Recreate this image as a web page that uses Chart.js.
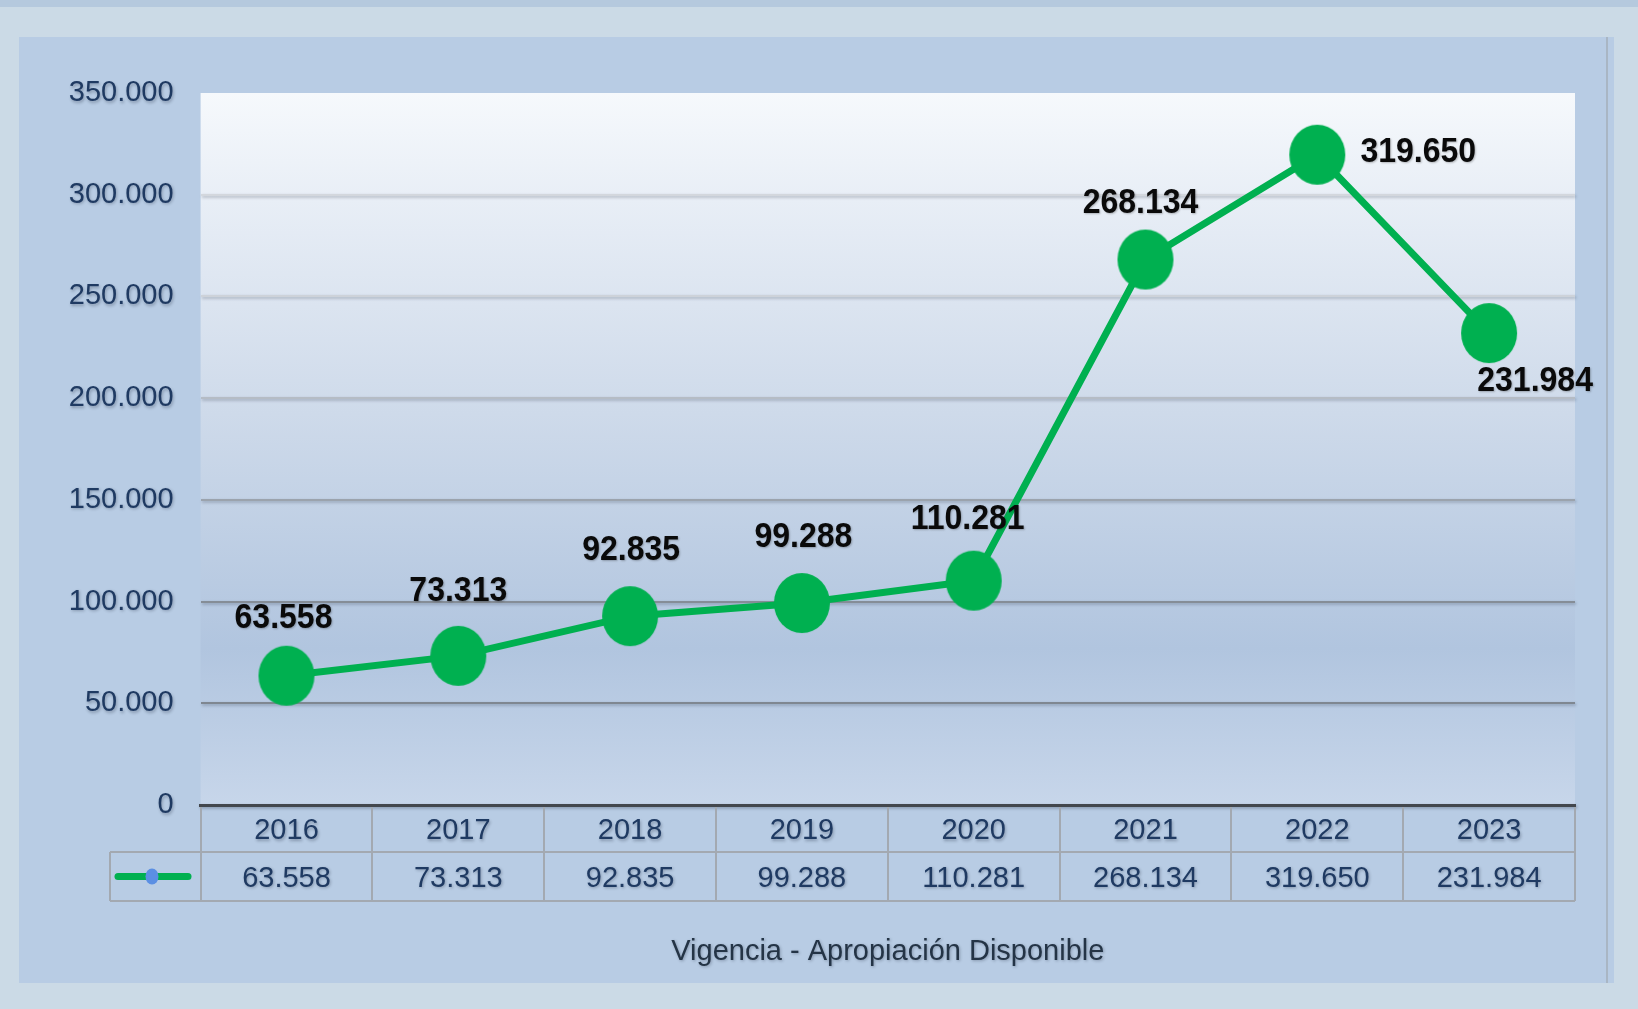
<!DOCTYPE html>
<html><head><meta charset="utf-8">
<script src="https://cdn.jsdelivr.net/npm/chart.js@4"></script>
<style>html,body{margin:0;padding:0;background:#cbdae6;overflow:hidden}canvas{display:block}</style>
</head><body>
<canvas id="c" width="1638" height="1009"></canvas>
<script>
// ---- data ----
const years = ['2016', '2017', '2018', '2019', '2020', '2021', '2022', '2023'];
const appropriation = [63558, 73313, 92835, 99288, 110281, 268134, 319650, 231984];
const yTicks = [0, 50000, 100000, 150000, 200000, 250000, 300000, 350000];
const axisTitle = 'Vigencia - Apropiación Disponible';

// ---- style ----
const FONT = '"Liberation Sans", Arial, sans-serif';
const labelOffsets = [[-3, -57], [0, -65], [1, -66], [1.5, -66], [-6, -61], [-5, -56], [101, -2], [46, 48]];
const gridColors = ['rgba(0,0,0,0)', '#7f8791', '#858d97', '#9ba3ad', '#b5bcc5', '#cdd2d9', '#d3d7dd', 'rgba(0,0,0,0)'];
const NAVY = '#1f3a62';
const GREEN = '#00b050';
const fmt = v => String(v).replace(/\B(?=(\d{3})+(?!\d))/g, '.');

function ellipseStyle(rx, ry, color) {
  const c = document.createElement('canvas');
  c.width = rx * 2 + 2; c.height = ry * 2 + 2;
  const g = c.getContext('2d');
  g.fillStyle = color;
  g.beginPath(); g.ellipse(rx + 1, ry + 1, rx, ry, 0, 0, Math.PI * 2); g.fill();
  return c;
}

function setShadow(ctx, on) {
  if (on) {
    ctx.shadowColor = 'rgba(15,25,45,0.3)'; ctx.shadowBlur = 3; ctx.shadowOffsetX = 1; ctx.shadowOffsetY = 1.5;
  } else {
    ctx.shadowColor = 'rgba(0,0,0,0)'; ctx.shadowBlur = 0; ctx.shadowOffsetX = 0; ctx.shadowOffsetY = 0;
  }
}

const decor = {
  id: 'decor',
  beforeDraw(chart) {
    const ctx = chart.ctx, a = chart.chartArea;
    ctx.save();
    setShadow(ctx, false);
    ctx.fillStyle = '#cbdae6'; ctx.fillRect(0, 0, chart.width, chart.height);
    ctx.fillStyle = '#b5c9de'; ctx.fillRect(0, 0, chart.width, 7);
    ctx.fillStyle = '#b8cce4'; ctx.fillRect(19, 37, 1595, 946);
    ctx.fillStyle = '#a9b6c4'; ctx.fillRect(1606, 37, 2, 946);
    const g = ctx.createLinearGradient(0, a.top, 0, a.bottom);
    g.addColorStop(0, '#f6f9fc');
    g.addColorStop(0.15, '#e8eef6');
    g.addColorStop(0.45, '#cedaea');
    g.addColorStop(0.78, '#b1c5df');
    g.addColorStop(1, '#c7d6ea');
    ctx.fillStyle = g;
    ctx.fillRect(a.left, a.top, a.right - a.left, a.bottom - a.top);
    ctx.restore();
    setShadow(ctx, true);
  },
  beforeDatasetsDraw(chart) {
    setShadow(chart.ctx, false);
  },
  afterDatasetsDraw(chart) {
    const ctx = chart.ctx;
    const meta = chart.getDatasetMeta(0);
    ctx.save();
    ctx.font = 'bold 32px ' + FONT;
    ctx.fillStyle = '#0a0a0a';
    ctx.textAlign = 'center';
    ctx.textBaseline = 'middle';
    ctx.shadowColor = 'rgba(0,0,0,0.25)'; ctx.shadowBlur = 2; ctx.shadowOffsetX = 1; ctx.shadowOffsetY = 1;
    meta.data.forEach((p, i) => {
      const o = labelOffsets[i];
      ctx.save();
      ctx.translate(p.x + o[0], p.y + o[1]);
      ctx.scale(1, 1.1);
      ctx.fillText(fmt(appropriation[i]), 0, 0);
      ctx.restore();
    });
    ctx.restore();
  },
  afterDraw(chart) {
    const ctx = chart.ctx, a = chart.chartArea, xs = chart.scales.x;
    const yMid = 852, yBot = 901, legLeft = 110;
    ctx.save();
    setShadow(ctx, false);
    ctx.strokeStyle = '#a3a9b1';
    ctx.lineWidth = 2;
    ctx.beginPath();
    for (let k = 0; k <= years.length; k++) {
      const x = Math.round(xs.getPixelForValue(k - 0.5));
      ctx.moveTo(x, a.bottom + 2); ctx.lineTo(x, yBot);
    }
    ctx.moveTo(legLeft, yMid); ctx.lineTo(a.right, yMid);
    ctx.moveTo(legLeft, yBot); ctx.lineTo(a.right, yBot);
    ctx.moveTo(legLeft, yMid); ctx.lineTo(legLeft, yBot);
    ctx.stroke();
    // legend key
    const ly = (yMid + yBot) / 2;
    ctx.strokeStyle = GREEN; ctx.lineWidth = 7; ctx.lineCap = 'round';
    ctx.beginPath(); ctx.moveTo(118, ly); ctx.lineTo(188, ly); ctx.stroke();
    ctx.fillStyle = '#5b8fe3';
    ctx.beginPath(); ctx.ellipse(152, ly, 6.5, 8, 0, 0, Math.PI * 2); ctx.fill();
    // values row
    setShadow(ctx, true);
    ctx.font = '29px ' + FONT;
    ctx.fillStyle = NAVY;
    ctx.textAlign = 'center';
    ctx.textBaseline = 'middle';
    appropriation.forEach((v, i) => {
      ctx.fillText(fmt(v), xs.getPixelForValue(i), ly + 2);
    });
    ctx.restore();
  }
};

new Chart(document.getElementById('c'), {
  type: 'line',
  data: {
    labels: years,
    datasets: [{
      data: appropriation,
      borderColor: GREEN,
      borderWidth: 7,
      pointStyle: ellipseStyle(28, 30, GREEN),
      pointRadius: 29,
      pointBackgroundColor: GREEN,
      pointBorderWidth: 0,
      tension: 0,
      clip: false
    }]
  },
  options: {
    responsive: false,
    animation: false,
    events: [],
    layout: { padding: { left: 0, right: 63, top: 93, bottom: 0 } },
    plugins: { legend: { display: false }, tooltip: { enabled: false } },
    scales: {
      x: {
        offset: true,
        grid: { display: false, drawTicks: false },
        border: { display: true, color: '#43474d', width: 3 },
        ticks: { font: { size: 29, family: FONT }, color: NAVY, padding: 9, maxRotation: 0 },
        title: { display: true, text: axisTitle, font: { size: 29, family: FONT }, color: '#243446', padding: { top: 0, bottom: 40 } },
        afterFit: s => { s.height = 204; }
      },
      y: {
        min: yTicks[0],
        max: yTicks[yTicks.length - 1],
        grid: { color: c => gridColors[c.index] || 'rgba(0,0,0,0)', lineWidth: 2, drawTicks: false },
        border: { display: false },
        ticks: { stepSize: yTicks[1] - yTicks[0], font: { size: 29, family: FONT }, color: NAVY, padding: 27, callback: v => fmt(v) },
        afterFit: s => { s.width = 200.6; }
      }
    }
  },
  plugins: [decor]
});
</script>
</body></html>
